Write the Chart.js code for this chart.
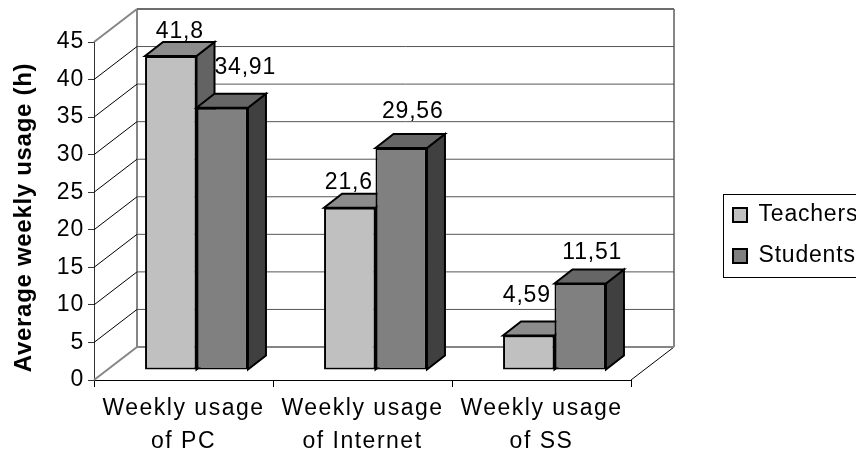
<!DOCTYPE html>
<html><head><meta charset="utf-8">
<style>html,body{margin:0;padding:0;background:#fff}canvas{display:block}</style>
<script src="https://cdn.jsdelivr.net/npm/chart.js@4"></script></head>
<body><div style="width:856px;height:452px"><canvas id="c" width="856" height="452"></canvas></div>
<script>
const categories = [["Weekly usage","of PC"],["Weekly usage","of Internet"],["Weekly usage","of SS"]];
const teachers = [41.8, 21.6, 4.59];
const students = [34.91, 29.56, 11.51];
const teacherLabels = ["41,8","21,6","4,59"];
const studentLabels = ["34,91","29,56","11,51"];
const yTicks = [0,5,10,15,20,25,30,35,40,45];

const FRONT = {x:13, y:-10};
const DEPTH = {x:18, y:-14};
const WALL = {x:43, y:-33};
// hand placement of the value labels relative to the bar's top, as [dx, dy]
const labelNudge = [[[22,-18],[12,-19],[11,-34]],[[36,-34],[24.5,-30],[25,-25]]];
const GREY='#868686';
function line(ctx,x1,y1,x2,y2,color,w){ctx.beginPath();ctx.moveTo(x1,y1);ctx.lineTo(x2,y2);ctx.strokeStyle=color;ctx.lineWidth=w;ctx.stroke();}
function poly(ctx,pts,fill){ctx.beginPath();pts.forEach((p,i)=>i?ctx.lineTo(p[0],p[1]):ctx.moveTo(p[0],p[1]));ctx.closePath();ctx.fillStyle=fill;ctx.fill();ctx.strokeStyle='#000';ctx.lineWidth=2;ctx.lineJoin='miter';ctx.stroke();}

const sideColors=['#636363','#404040'], topColors=['#8c8c8c','#666666'];
const threeD = {
  id:'threeD',
  afterInit(chart){
    chart.ctx.letterSpacing='0.8px';
    const l=chart.legend, f=l.fit;
    l.fit=function(){f.call(this);this.width=225;};
  },
  afterLayout(chart){
    const l=chart.legend;
    if(l){l.left=715;l.right=856;l.top=185.5;l.bottom=420;}
    const {x,y}=chart.scales, ctx=chart.ctx;
    if(!x._wrapped){
      x._wrapped=true;
      const dl=x.drawLabels;
      x.drawLabels=function(a){ctx.save();ctx.letterSpacing='1.5px';dl.call(this,a);ctx.restore();};
      const dt=y.drawTitle;
      y.drawTitle=function(a){ctx.save();ctx.translate(0,6.5);ctx.letterSpacing='0.7px';dt.call(this,a);ctx.restore();};
    }
  },
  beforeDatasetsDraw(chart){
    const {ctx,chartArea:a,scales:{y}}=chart;
    ctx.save();
    line(ctx,a.left,a.bottom,a.left+WALL.x,a.bottom+WALL.y,GREY,2);
    line(ctx,a.right,a.bottom,a.right+WALL.x,a.bottom+WALL.y,'#000',1);
    line(ctx,a.left,a.top,a.left+WALL.x,a.top+WALL.y,GREY,2);
    line(ctx,a.left+WALL.x,a.top+WALL.y,a.left+WALL.x,a.bottom+WALL.y,GREY,2);
    line(ctx,a.left+WALL.x,a.top+WALL.y,a.right+WALL.x,a.top+WALL.y,GREY,2);
    line(ctx,a.right+WALL.x,a.top+WALL.y,a.right+WALL.x,a.bottom+WALL.y,GREY,2);
    yTicks.forEach(v=>{
      const py=y.getPixelForValue(v);
      if(v>0&&v<45) line(ctx,a.left,py,a.left+WALL.x,py+WALL.y,'#000',1);
      line(ctx,a.left+WALL.x,py+WALL.y,a.right+WALL.x,py+WALL.y,v===0?GREY:'#555',v===0?2:1);
    });
    ctx.restore();
    // Teachers first, then Students, so each student bar covers its neighbour's side face
    [0,1].forEach(i=>{
      const meta=chart.getDatasetMeta(i);
      ctx.save();
      ctx.translate(FRONT.x,FRONT.y);
      meta.data.forEach(b=>{
        const r=b.x+b.width/2,l=b.x-b.width/2,t=b.y,base=b.base;
        poly(ctx,[[r,t],[r+DEPTH.x,t+DEPTH.y],[r+DEPTH.x,base+DEPTH.y],[r,base]],sideColors[i]);
        poly(ctx,[[l,t],[l+DEPTH.x,t+DEPTH.y],[r+DEPTH.x,t+DEPTH.y],[r,t]],topColors[i]);
      });
      meta.controller.draw();
      ctx.restore();
    });
  },
  beforeDatasetDraw(){return false;},
  afterDatasetsDraw(chart){
    const {ctx}=chart;
    ctx.save();
    ctx.font='23px "Liberation Sans"';ctx.fillStyle='#000';ctx.textAlign='center';ctx.textBaseline='alphabetic';
    [teacherLabels,studentLabels].forEach((labs,i)=>{
      chart.getDatasetMeta(i).data.forEach((b,j)=>{
        const n=labelNudge[i][j];
        ctx.fillText(labs[j],b.x+n[0],b.y+FRONT.y+n[1]);
      });
    });
    ctx.restore();
  },
  beforeDraw(chart){
    const {ctx}=chart;
    ctx.save();ctx.strokeStyle='#000';ctx.lineWidth=1;
    ctx.strokeRect(723.5,194.5,140,83);ctx.restore();
  }
};

new Chart(document.getElementById('c'),{
  type:'bar',
  data:{labels:categories,datasets:[
    {label:'Teachers',data:teachers,backgroundColor:'#c0c0c0',borderColor:'#000',borderWidth:2,borderSkipped:false},
    {label:'Students',data:students,backgroundColor:'#808080',borderColor:'#000',borderWidth:2,borderSkipped:false}
  ]},
  plugins:[threeD],
  options:{
    responsive:false,animation:false,
    layout:{padding:{left:0,right:0,top:42,bottom:0}},
    datasets:{bar:{categoryPercentage:0.575,barPercentage:1}},
    plugins:{
      tooltip:{enabled:false},
      legend:{position:'right',align:'start',
        labels:{boxWidth:14,boxHeight:14,padding:18,color:'#000',font:{family:'Liberation Sans',size:23}}}
    },
    scales:{
      x:{afterFit(s){s.height=72;},
        grid:{drawOnChartArea:false,color:'#000',tickLength:7,offset:true},border:{color:'#000'},
        ticks:{color:'#000',font:{family:'Liberation Sans',size:23,lineHeight:1.43},maxRotation:0,padding:5}},
      y:{min:0,max:45,afterBuildTicks(s){s.ticks=yTicks.map(v=>({value:v}));},
        afterFit(s){s.width=94;},
        grid:{drawOnChartArea:false,color:'#333',tickLength:6},border:{color:'#333'},
        ticks:{color:'#000',font:{family:'Liberation Sans',size:23},padding:4},
        title:{display:true,text:'Average weekly usage (h)',color:'#000',font:{family:'Liberation Sans',size:24,weight:'bold'},padding:{top:10,bottom:0}}}
    }
  }
});
</script></body></html>
